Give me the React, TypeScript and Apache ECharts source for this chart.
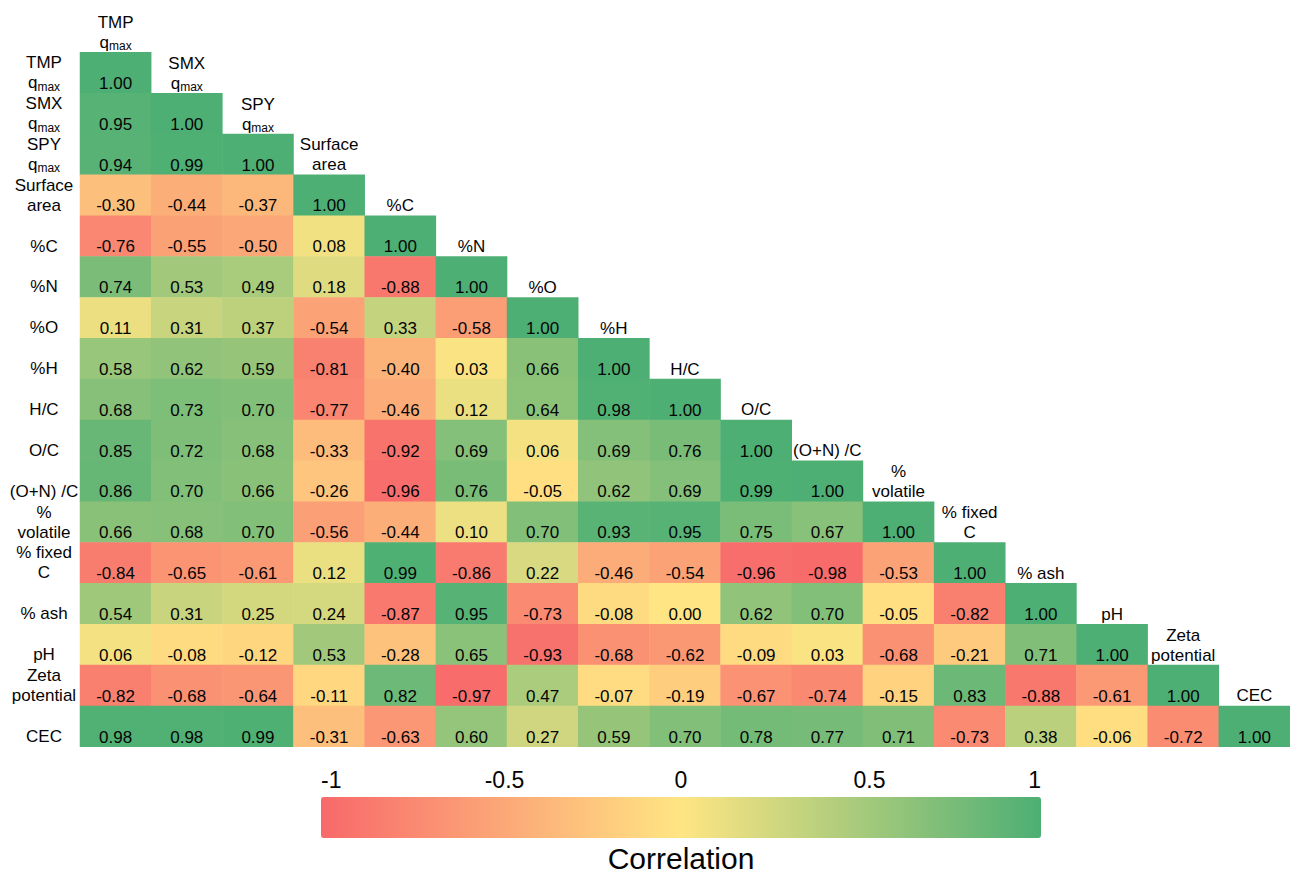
import React, { useEffect, useRef } from 'react';
import * as echarts from 'echarts';

// ---------- data ----------
const variables = [
  'TMP qmax', 'SMX qmax', 'SPY qmax', 'Surface area', '%C', '%N', '%O', '%H',
  'H/C', 'O/C', '(O+N) /C', '% volatile', '% fixed C', '% ash', 'pH', 'Zeta potential', 'CEC',
];

// how each variable name is written (line breaks, subscript "max")
const labelText = [
  'TMP\n{q|q}{sub|max}', 'SMX\n{q|q}{sub|max}', 'SPY\n{q|q}{sub|max}', 'Surface\narea', '%C', '%N', '%O', '%H',
  'H/C', 'O/C', '(O+N) /C', '%\nvolatile', '% fixed\nC', '% ash', 'pH', 'Zeta\npotential', 'CEC',
];

// lower triangle of the correlation matrix (row i holds columns 0..i)
const corrRows: number[][] = [
  [1.0],
  [0.95, 1.0],
  [0.94, 0.99, 1.0],
  [-0.3, -0.44, -0.37, 1.0],
  [-0.76, -0.55, -0.5, 0.08, 1.0],
  [0.74, 0.53, 0.49, 0.18, -0.88, 1.0],
  [0.11, 0.31, 0.37, -0.54, 0.33, -0.58, 1.0],
  [0.58, 0.62, 0.59, -0.81, -0.4, 0.03, 0.66, 1.0],
  [0.68, 0.73, 0.7, -0.77, -0.46, 0.12, 0.64, 0.98, 1.0],
  [0.85, 0.72, 0.68, -0.33, -0.92, 0.69, 0.06, 0.69, 0.76, 1.0],
  [0.86, 0.7, 0.66, -0.26, -0.96, 0.76, -0.05, 0.62, 0.69, 0.99, 1.0],
  [0.66, 0.68, 0.7, -0.56, -0.44, 0.1, 0.7, 0.93, 0.95, 0.75, 0.67, 1.0],
  [-0.84, -0.65, -0.61, 0.12, 0.99, -0.86, 0.22, -0.46, -0.54, -0.96, -0.98, -0.53, 1.0],
  [0.54, 0.31, 0.25, 0.24, -0.87, 0.95, -0.73, -0.08, 0.0, 0.62, 0.7, -0.05, -0.82, 1.0],
  [0.06, -0.08, -0.12, 0.53, -0.28, 0.65, -0.93, -0.68, -0.62, -0.09, 0.03, -0.68, -0.21, 0.71, 1.0],
  [-0.82, -0.68, -0.64, -0.11, 0.82, -0.97, 0.47, -0.07, -0.19, -0.67, -0.74, -0.15, 0.83, -0.88, -0.61, 1.0],
  [0.98, 0.98, 0.99, -0.31, -0.63, 0.6, 0.27, 0.59, 0.7, 0.78, 0.77, 0.71, -0.73, 0.38, -0.06, -0.72, 1.0],
];

const colorScaleMin = -1;
const colorScaleMax = 1;
const colorScaleStep = 0.5;
const legendTitle = 'Correlation';

// ---------- style ----------
const FONT = '"Liberation Sans", Arial, Helvetica, sans-serif';
const TEXT = '#050505';
const RED = '#F8696B';
const YELLOW = '#FFE583';
const GREEN = '#4DAF74';

const CELL_W = 71.7;
const CELL_H = 40.85;
const GRID_LEFT = 80;
const FIRST_ROW_TOP = 52.3;

const rich = {
  q: { fontFamily: FONT, fontSize: 17, lineHeight: 20, color: TEXT },
  sub: { fontFamily: FONT, fontSize: 12, lineHeight: 8, color: TEXT, verticalAlign: 'bottom' },
};

export default function App() {
  const ref = useRef<HTMLDivElement>(null);

  useEffect(() => {
    if (!ref.current) return;
    const chart = echarts.init(ref.current, null, { renderer: 'svg' });

    const cellData: [number, number, number][] = [];
    corrRows.forEach((row, i) => {
      row.forEach((v, j) => {
        cellData.push([j, i + 1, v]);
      });
    });
    const headerData: [number, number][] = variables.map((_, k) => [k, k]);

    const yCategories = ['', ...variables];

    const option: any = {
      animation: false,
      backgroundColor: '#ffffff',
      textStyle: { fontFamily: FONT },
      grid: [
        {
          left: GRID_LEFT,
          top: FIRST_ROW_TOP - CELL_H,
          width: CELL_W * variables.length,
          height: CELL_H * (variables.length + 1),
        },
        { left: 321, top: 797, width: 720, height: 41 },
      ],
      xAxis: [
        {
          type: 'category',
          gridIndex: 0,
          data: variables,
          axisLine: { show: false },
          axisTick: { show: false },
          axisLabel: { show: false },
          splitLine: { show: false },
        },
        {
          type: 'value',
          gridIndex: 1,
          position: 'top',
          min: colorScaleMin,
          max: colorScaleMax,
          interval: colorScaleStep,
          axisLine: { show: false },
          axisTick: { show: false },
          splitLine: { show: false },
          axisLabel: {
            fontFamily: FONT,
            fontSize: 23,
            color: TEXT,
            margin: 6,
            alignMinLabel: 'left',
            alignMaxLabel: 'right',
            formatter: (v: number) => {
              if (v === -0.5) return '{a|-0.5}';
              if (v === 0.5) return '{b|0.5}';
              return String(v);
            },
            rich: {
              a: { fontFamily: FONT, fontSize: 23, color: TEXT, padding: [0, 0, 0, 7] },
              b: { fontFamily: FONT, fontSize: 23, color: TEXT, padding: [0, 0, 0, 17] },
            },
          },
        },
        {
          type: 'value',
          gridIndex: 1,
          position: 'bottom',
          min: colorScaleMin,
          max: colorScaleMax,
          axisLine: { show: false },
          axisTick: { show: false },
          splitLine: { show: false },
          axisLabel: { show: false },
          name: legendTitle,
          nameLocation: 'middle',
          nameGap: 8,
          nameTextStyle: { fontFamily: FONT, fontSize: 30, color: TEXT, verticalAlign: 'top' },
        },
      ],
      yAxis: [
        {
          type: 'category',
          gridIndex: 0,
          inverse: true,
          data: yCategories,
          axisLine: { show: false },
          axisTick: { show: false },
          splitLine: { show: false },
          axisLabel: {
            fontFamily: FONT,
            fontSize: 17,
            lineHeight: 20,
            color: TEXT,
            align: 'center',
            margin: 36,
            formatter: (val: string) => {
              const k = variables.indexOf(val);
              if (k < 0) return '';
              const t = labelText[k];
              return t.indexOf('\n') >= 0 ? t : '\n' + t;
            },
            rich,
          },
        },
        { type: 'value', gridIndex: 1, show: false, min: 0, max: 1 },
      ],
      visualMap: {
        type: 'continuous',
        seriesIndex: 0,
        min: colorScaleMin,
        max: colorScaleMax,
        orient: 'horizontal',
        left: 321,
        top: 797,
        itemWidth: 41,
        itemHeight: 720,
        padding: 0,
        calculable: false,
        hoverLink: false,
        inRange: { color: [RED, YELLOW, GREEN] },
      },
      series: [
        {
          type: 'heatmap',
          xAxisIndex: 0,
          yAxisIndex: 0,
          data: cellData,
          emphasis: { disabled: true },
          label: {
            show: true,
            position: 'insideBottom',
            distance: 0,
            fontFamily: FONT,
            fontSize: 17,
            lineHeight: 20,
            color: TEXT,
            formatter: (p: any) => (p.data[2] as number).toFixed(2),
          },
        },
        {
          type: 'scatter',
          xAxisIndex: 0,
          yAxisIndex: 0,
          data: headerData,
          symbol: 'rect',
          symbolSize: [CELL_W, CELL_H],
          silent: true,
          emphasis: { disabled: true },
          itemStyle: { color: 'rgba(0,0,0,0)', opacity: 1 },
          label: {
            show: true,
            position: 'insideBottom',
            distance: 0,
            fontFamily: FONT,
            fontSize: 17,
            lineHeight: 20,
            color: TEXT,
            formatter: (p: any) => labelText[p.data[0]],
            rich,
          },
        },
      ],
    };

    chart.setOption(option);
    return () => chart.dispose();
  }, []);

  return (
    <div
      ref={ref}
      style={{ position: 'absolute', left: 0, top: 0, width: 1290, height: 874 }}
    />
  );
}
